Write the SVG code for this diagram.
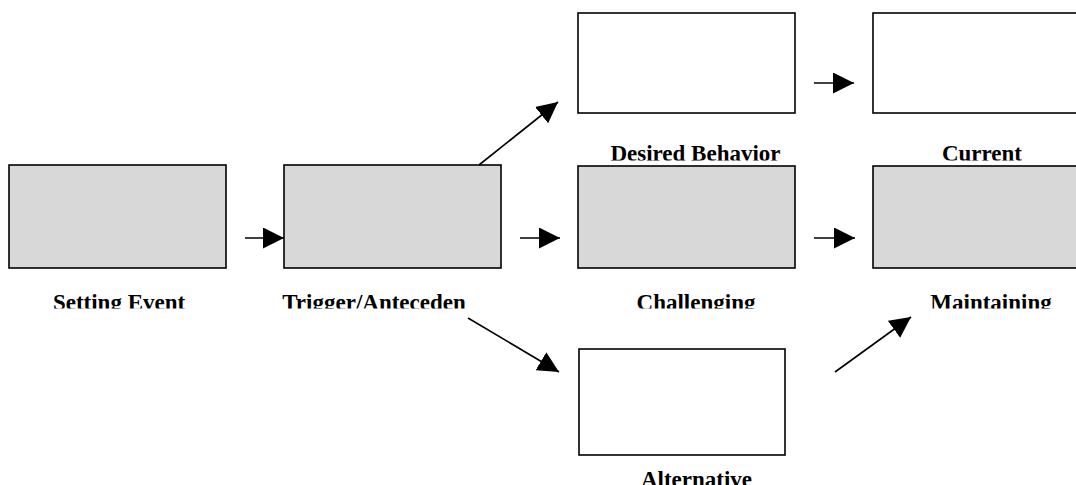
<svg xmlns="http://www.w3.org/2000/svg" width="1076" height="485" viewBox="0 0 1076 485">
<style>
.box{stroke:#000;stroke-width:1.6}
.gray{fill:#d8d8d8}
.white{fill:#fff}
.lbl{font-family:"Liberation Serif","Times New Roman",serif;font-weight:bold;font-size:23px;fill:#000;text-anchor:middle}
.conn{stroke:#000;stroke-width:1.6;fill:none}
</style>
<defs>
<marker id="ah" markerUnits="userSpaceOnUse" markerWidth="21" markerHeight="21" refX="21" refY="10.5" orient="auto" viewBox="0 0 21 21">
<path d="M0,0 L21,10.5 L0,21 z" fill="#000"/>
</marker>
<clipPath id="clipTop"><rect x="0" y="120" width="1076" height="40.5"/></clipPath>
<clipPath id="clipMid"><rect x="0" y="270" width="1076" height="38.5"/></clipPath>
</defs>
<rect width="1076" height="485" fill="#fff"/>
<g id="setting-event">
<rect class="box gray" x="9" y="165" width="217" height="103"/>
<text class="lbl" x="119" y="310" clip-path="url(#clipMid)">Setting Event</text>
</g>
<g id="trigger">
<rect class="box gray" x="284" y="165" width="217" height="103"/>
<text class="lbl" x="374" y="310" clip-path="url(#clipMid)">Trigger/Anteceden</text>
</g>
<g id="desired-behavior">
<rect class="box white" x="578" y="13" width="217" height="100"/>
<text class="lbl" x="695.5" y="161" clip-path="url(#clipTop)">Desired Behavior</text>
</g>
<g id="current">
<rect class="box white" x="873" y="13" width="220" height="100"/>
<text class="lbl" x="982" y="161" clip-path="url(#clipTop)">Current</text>
</g>
<g id="challenging">
<rect class="box gray" x="578" y="166" width="217" height="102"/>
<text class="lbl" x="696" y="310" clip-path="url(#clipMid)">Challenging</text>
</g>
<g id="maintaining">
<rect class="box gray" x="873" y="166" width="220" height="102"/>
<text class="lbl" x="991" y="310" clip-path="url(#clipMid)">Maintaining</text>
</g>
<g id="alternative">
<rect class="box white" x="579" y="349" width="206" height="106"/>
<text class="lbl" x="696.5" y="487">Alternative</text>
</g>
<g id="connectors">
<line class="conn" x1="245" y1="238" x2="284" y2="238" marker-end="url(#ah)"/>
<line class="conn" x1="520" y1="238" x2="560" y2="238" marker-end="url(#ah)"/>
<line class="conn" x1="814" y1="83" x2="854" y2="83" marker-end="url(#ah)"/>
<line class="conn" x1="814" y1="238" x2="855" y2="238" marker-end="url(#ah)"/>
<line class="conn" x1="479" y1="165" x2="558" y2="102" marker-end="url(#ah)"/>
<line class="conn" x1="468" y1="318" x2="559" y2="372" marker-end="url(#ah)"/>
<line class="conn" x1="835" y1="372" x2="911" y2="317" marker-end="url(#ah)"/>
</g>
</svg>
